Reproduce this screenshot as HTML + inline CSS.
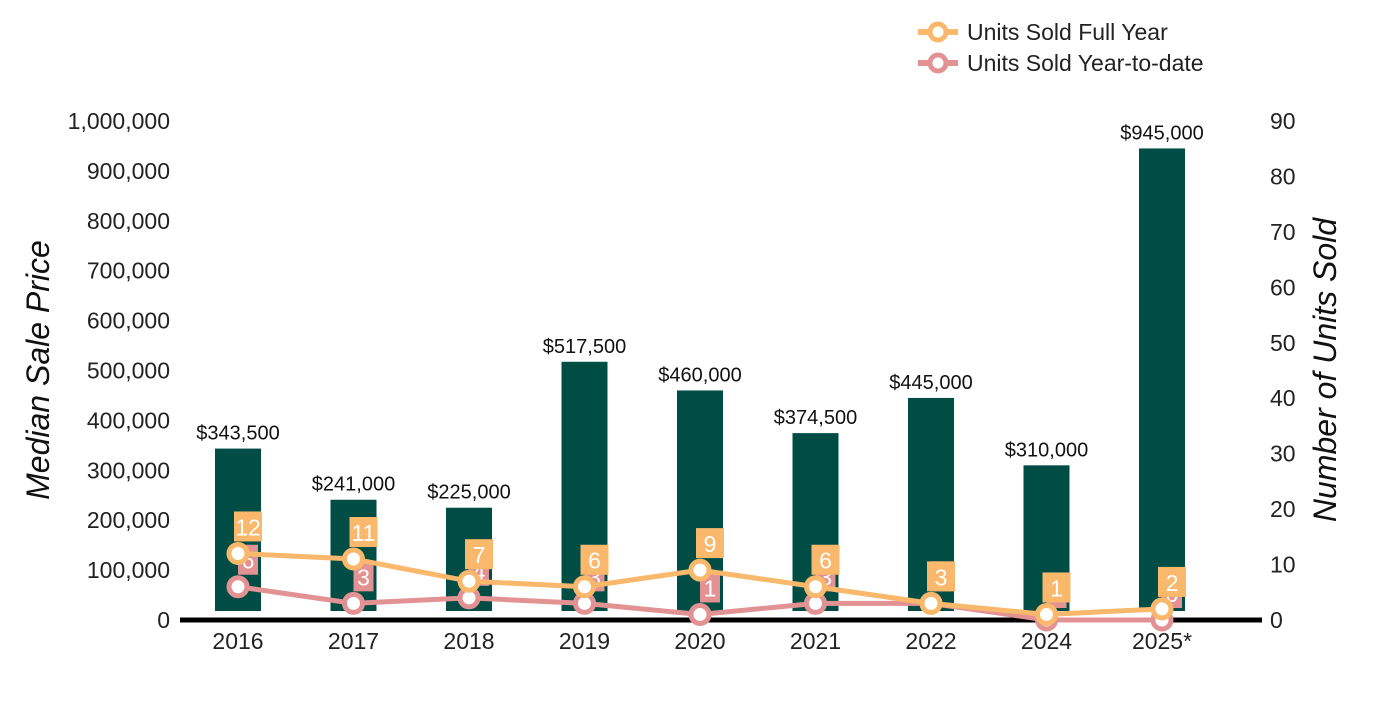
<!DOCTYPE html>
<html><head><meta charset="utf-8"><style>
body{margin:0;background:#fff;}
svg text{font-family:"Liberation Sans",Arial,sans-serif;}
</style></head><body>
<svg id="chart" width="1400" height="700" xmlns="http://www.w3.org/2000/svg"></svg>
<script>
const categories=["2016","2017","2018","2019","2020","2021","2022","2024","2025*"];
const prices=[343500,241000,225000,517500,460000,374500,445000,310000,945000];
const priceLabels=["$343,500","$241,000","$225,000","$517,500","$460,000","$374,500","$445,000","$310,000","$945,000"];
const unitsFull=[12,11,7,6,9,6,3,1,2];
const unitsYTD=[6,3,4,3,1,3,3,0,0];
const leftTicks=[0,100000,200000,300000,400000,500000,600000,700000,800000,900000,1000000];
const rightTicks=[0,10,20,30,40,50,60,70,80,90];

const NS="http://www.w3.org/2000/svg";
const svg=document.getElementById('chart');
const baseY=620, plotTop=121;
const yL=v=>baseY-(v/1000000)*(baseY-plotTop);
const yR=v=>baseY-(v/90)*(baseY-plotTop);
const xC=i=>238+i*115.5;
function el(tag,attrs,txt){const e=document.createElementNS(NS,tag);for(const k in attrs)e.setAttribute(k,attrs[k]);if(txt!==undefined)e.textContent=txt;svg.appendChild(e);return e;}

leftTicks.forEach(t=>{
  const e=el('text',{x:170,y:yL(t)+8,'text-anchor':'end','font-size':23,fill:'#222'},t.toLocaleString('en-US'));
  
  
});
rightTicks.forEach(t=>{
  const e=el('text',{x:1270,y:yR(t)+8,'font-size':23,fill:'#222'},String(t));
  
  
});
let t1=el('text',{x:0,y:0,'font-size':32,'font-style':'italic','text-anchor':'middle',fill:'#111',transform:'translate(49,370) rotate(-90)'},'Median Sale Price');


let t2=el('text',{x:0,y:0,'font-size':32,'font-style':'italic','text-anchor':'middle',fill:'#111',transform:'translate(1336,370) rotate(-90)'},'Number of Units Sold');



prices.forEach((p,i)=>{
  const y=yL(p);
  const r=el('rect',{x:xC(i)-23,y:y,width:46,height:611-y,fill:'#004d45'});
  
  
  const l=el('text',{x:xC(i),y:y-9,'text-anchor':'middle','font-size':20,fill:'#111'},priceLabels[i]);
  
  
});
const ax=el('line',{x1:180,x2:1262,y1:620,y2:620,stroke:'#000','stroke-width':5});


categories.forEach((c,i)=>{
  const e=el('text',{x:xC(i),y:649,'text-anchor':'middle','font-size':23,fill:'#222'},c);
  
  
});

function series(vals,color,name){
  const pts=vals.map((v,i)=>xC(i)+','+yR(v)).join(' ');
  const pl=el('polyline',{points:pts,fill:'none',stroke:color,'stroke-width':5});
  
  
  vals.forEach((v,i)=>{
    const c=el('circle',{cx:xC(i),cy:yR(v),r:9,fill:'#fff',stroke:color,'stroke-width':5});
    
    
  });
}
function labels(vals,color,name,w){
  vals.forEach((v,i)=>{
    const x=xC(i)+10, y=yR(v)-12;
    const r=el('rect',{x:x-w/2,y:y-30,width:w,height:30,fill:color});
    
    
    const t=el('text',{x:x,y:y-6,'text-anchor':'middle','font-size':23,fill:'#fff'},String(v));
    
    
  });
}
labels(unitsYTD,'#e39294','ytd',20);
series(unitsYTD,'#e39294','ytd');
labels(unitsFull,'#f9b86b','full-year',28);
series(unitsFull,'#f9b86b','full-year');

function legend(y,color,text,name){
  const l=el('line',{x1:918,x2:958,y1:y,y2:y,stroke:color,'stroke-width':6});
  
  
  const c=el('circle',{cx:938,cy:y,r:8,fill:'#fff',stroke:color,'stroke-width':5});
  
  
  const t=el('text',{x:967,y:y+8,'font-size':23,fill:'#222'},text);
  
  
}
legend(32,'#f9b86b','Units Sold Full Year','full-year');
legend(63,'#e39294','Units Sold Year-to-date','ytd');
</script>
</body></html>
